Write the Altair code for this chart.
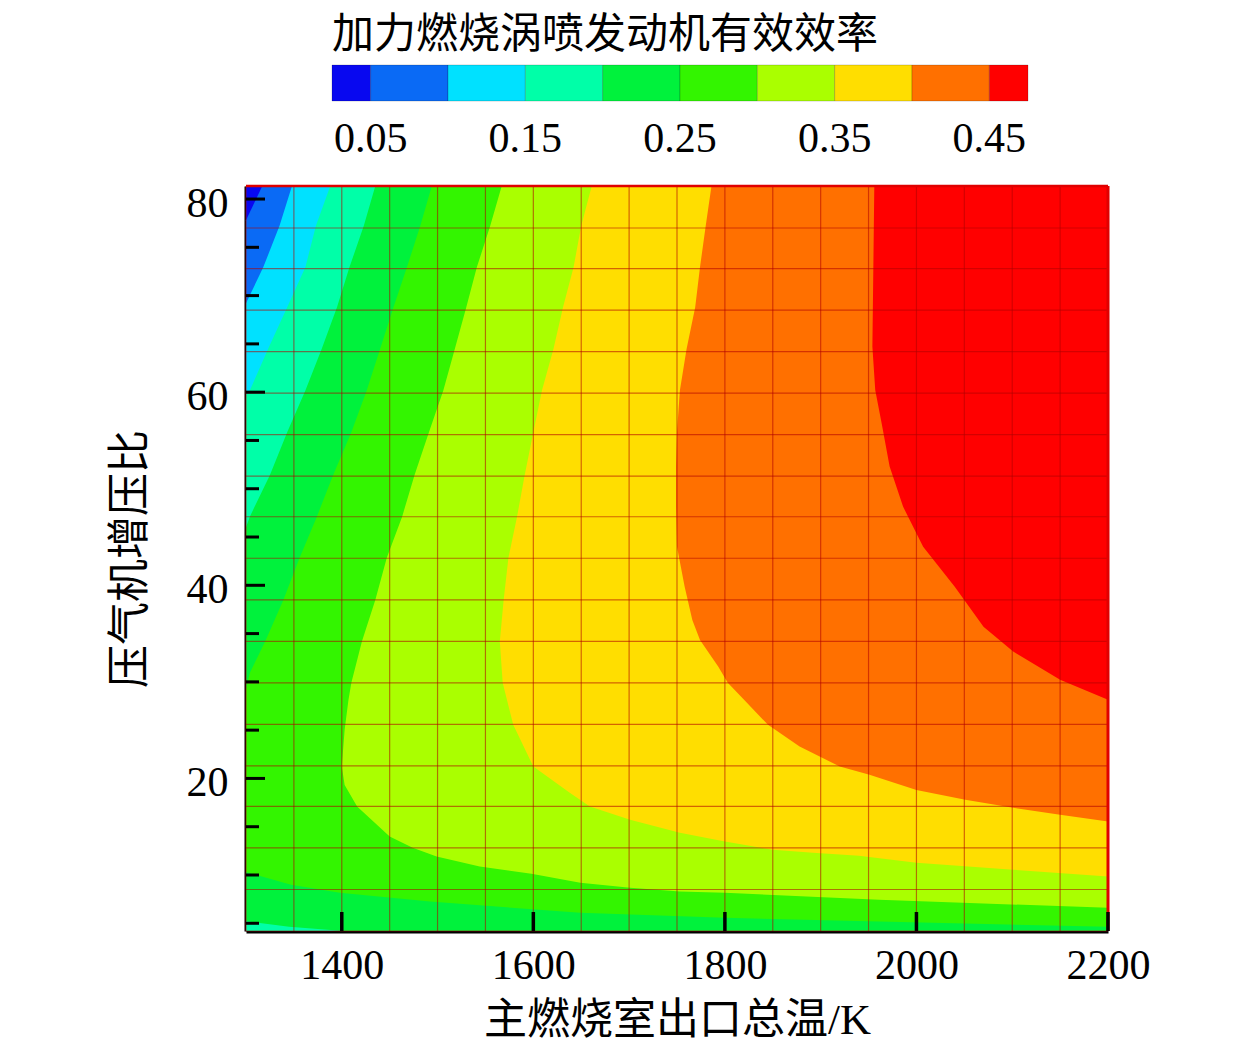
import altair as alt
import pandas as pd

# ---------------- text ----------------
TITLE = "加力燃烧涡喷发动机有效效率"
X_TITLE = "主燃烧室出口总温/K"
Y_TITLE = "压气机增压比"

# ---------------- axes ----------------
T_MIN, T_MAX = 1300, 2200
P_MIN, P_MAX = 4.2, 81.35
X_TICKS = [1400, 1600, 1800, 2000, 2200]
Y_TICKS = [20, 40, 60, 80]
Y_MINOR = [5, 10, 15, 25, 30, 35, 45, 50, 55, 65, 70, 75]

# computational grid (red lines)
GRID_T = [1300, 1350, 1400, 1450, 1500, 1550, 1600, 1650, 1700, 1750,
          1800, 1850, 1900, 1950, 2000, 2050, 2100, 2150, 2200]
GRID_P = [4.2, 8.5, 12.8, 17.1, 21.3, 25.6, 29.9, 34.2, 38.5, 42.8,
          47.1, 51.3, 55.6, 59.9, 64.2, 68.5, 72.8, 77.0, 81.3]

# ---------------- colour levels ----------------
LEVELS = [0.05, 0.10, 0.15, 0.20, 0.25, 0.30, 0.35, 0.40, 0.45]
COLORS = ["#0808f0", "#0a6af5", "#00e1ff", "#00ffa8", "#00f23c",
          "#33f500", "#aaff00", "#ffde00", "#ff7000", "#ff0000"]
CB_LO = [0.025, 0.05, 0.10, 0.15, 0.20, 0.25, 0.30, 0.35, 0.40, 0.45]
CB_HI = [0.05, 0.10, 0.15, 0.20, 0.25, 0.30, 0.35, 0.40, 0.45, 0.475]
CB_LABEL_VALUES = [0.05, 0.15, 0.25, 0.35, 0.45]
CB_LABELS = ["0.05", "0.15", "0.25", "0.35", "0.45"]

# ---------------- contour boundaries (pressure ratio -> temperature) ----------------
P_05 = [81.35, 77.8, 4.2]
T_05 = [1317, 1300, 1300]

P_10 = [81.35, 77.24, 72.93, 69.2, 4.2]
T_10 = [1348, 1335, 1318, 1300, 1300]

P_15 = [81.35, 77.24, 72.93, 68.79, 64.47, 60.16, 59.7, 4.2]
T_15 = [1388, 1373, 1362, 1343, 1323, 1304, 1300, 1300]

P_20 = [81.35, 77.24, 72.93, 68.79, 64.47, 60.16, 55.85, 51.43, 47.11, 46.0,
        5.2, 4.63, 4.2]
T_20 = [1435, 1423, 1408, 1395, 1379, 1362, 1343, 1325, 1304, 1300,
        1300, 1345, 1402]

P_25 = [81.35, 77.24, 72.93, 68.79, 64.47, 60.16, 55.85, 51.43, 47.11, 42.84,
        38.49, 34.17, 30.93, 29.2, 10.3, 9.0, 8.15, 7.25, 6.70, 6.08, 5.56, 5.18, 4.63]
T_25 = [1494, 1482, 1468, 1454, 1440, 1426, 1410, 1391, 1374, 1356,
        1339, 1320, 1304, 1300, 1300, 1347, 1398, 1492, 1565, 1649, 1800, 1961, 2200]

P_30 = [81.35, 77.24, 72.93, 68.79, 64.47, 60.16, 55.85, 51.43, 47.11, 42.84,
        38.49, 34.17, 29.9, 28.14, 25.03, 21.23, 19.33, 17.09, 13.99, 12.82,
        11.91, 10.88, 10.12, 9.19, 8.67, 8.29, 8.15, 7.43, 6.60]
T_30 = [1567, 1555, 1541, 1530, 1518, 1506, 1491, 1476, 1463, 1447,
        1435, 1421, 1410, 1407, 1403, 1400, 1403, 1416, 1450, 1474,
        1499, 1544, 1598, 1649, 1701, 1753, 1800, 1961, 2200]

P_35 = [81.35, 77.24, 72.93, 68.79, 64.47, 60.16, 55.85, 51.43, 47.11, 42.84,
        38.49, 34.17, 29.9, 25.55, 21.23, 18.51, 17.09, 15.71, 14.37, 13.47,
        12.61, 12.30, 12.0, 11.26, 10.54, 9.84]
T_35 = [1661, 1650, 1642, 1631, 1621, 1609, 1600, 1591, 1583, 1574,
        1569, 1565, 1568, 1579, 1600, 1638, 1659, 1701, 1753, 1800,
        1850, 1892, 1940, 2000, 2101, 2200]

P_40 = [81.35, 77.24, 72.93, 68.79, 64.47, 60.16, 55.85, 52.29, 48.15, 44.0,
        39.86, 36.4, 34.34, 31.58, 29.9, 28.14, 25.55, 23.30, 21.23, 20.37,
        18.81, 17.78, 16.96, 16.23, 15.54]
T_40 = [1786, 1780, 1774, 1769, 1760, 1753, 1750, 1749, 1749, 1750,
        1758, 1766, 1774, 1793, 1803, 1820, 1845, 1878, 1920, 1951,
        2000, 2051, 2101, 2150, 2200]

P_45 = [81.35, 72.9, 64.71, 60.2, 56.6, 52.29, 48.15, 44.0, 39.86, 35.72,
        33.14, 30.21, 28.14]
T_45 = [1956, 1955, 1954, 1957, 1964, 1972, 1986, 2007, 2040, 2070,
        2101, 2150, 2200]

BOUNDARIES = [(P_05, T_05), (P_10, T_10), (P_15, T_15), (P_20, T_20), (P_25, T_25),
              (P_30, T_30), (P_35, T_35), (P_40, T_40), (P_45, T_45)]

# ---------------- style ----------------
W, H = 862, 745
SERIF = "Liberation Serif"
MIXED = "Liberation Serif, Noto Sans CJK SC"
GRID_COLOR = "#b00000"


def xsc():
    return alt.Scale(domain=[T_MIN, T_MAX], nice=False, zero=False)


def ysc():
    return alt.Scale(domain=[P_MIN, P_MAX], nice=False, zero=False)


AX_X = alt.Axis(values=X_TICKS, format="d", ticks=False, grid=False, domain=True,
                domainColor="black", domainWidth=4, labelFont=SERIF, labelFontSize=42,
                labelColor="black", labelPadding=14, labelFlush=False,
                title=X_TITLE, titleFont=MIXED, titleFontSize=43,
                titleFontWeight="normal", titleColor="black", titlePadding=13)
AX_Y = alt.Axis(values=Y_TICKS, format="d", ticks=False, grid=False, domain=True,
                domainColor="black", domainWidth=4, labelFont=SERIF, labelFontSize=42,
                labelColor="black", labelPadding=18, labelOffset=4, title=Y_TITLE,
                titleFont=MIXED, titleFontSize=43, titleFontWeight="normal",
                titleColor="black", titlePadding=34)

layers = []

# base (lowest colour)
base_df = pd.DataFrame({"t0": [T_MIN], "t1": [T_MAX], "p0": [P_MIN], "p1": [P_MAX]})
layers.append(alt.Chart(base_df).mark_rect(color=COLORS[0]).encode(
    x=alt.X("t0:Q", scale=xsc(), axis=None), x2="t1",
    y=alt.Y("p0:Q", scale=ysc(), axis=None), y2="p1"))

# filled contour bands: each band fills from its boundary to the right edge
for i, (P, T) in enumerate(BOUNDARIES):
    df = pd.DataFrame({"p": P, "T": T, "t1": T_MAX})
    layers.append(
        alt.Chart(df).mark_area(orient="horizontal", color=COLORS[i + 1], opacity=1).encode(
            x=alt.X("T:Q", scale=xsc(), axis=None, stack=None),
            x2="t1",
            y=alt.Y("p:Q", scale=ysc(), axis=None)))

# grid lines
gv_df = pd.DataFrame({"T": GRID_T, "p0": P_MIN, "p1": P_MAX})
gh_df = pd.DataFrame({"p": GRID_P, "t0": T_MIN, "t1": T_MAX})
layers.append(alt.Chart(gv_df).mark_rule(color=GRID_COLOR, strokeWidth=1.2, opacity=0.55).encode(
    x=alt.X("T:Q", scale=xsc(), axis=None), y=alt.Y("p0:Q", scale=ysc(), axis=None), y2="p1"))
layers.append(alt.Chart(gh_df).mark_rule(color=GRID_COLOR, strokeWidth=1.2, opacity=0.55).encode(
    y=alt.Y("p:Q", scale=ysc(), axis=None), x=alt.X("t0:Q", scale=xsc(), axis=None), x2="t1"))

# red frame on top and right
top_df = pd.DataFrame({"p": [P_MAX], "t0": [T_MIN], "t1": [T_MAX]})
right_df = pd.DataFrame({"T": [T_MAX], "p0": [P_MIN], "p1": [P_MAX]})
layers.append(alt.Chart(top_df).mark_rule(color="#e00000", strokeWidth=2.5).encode(
    y=alt.Y("p:Q", scale=ysc(), axis=None), x=alt.X("t0:Q", scale=xsc(), axis=None), x2="t1"))
layers.append(alt.Chart(right_df).mark_rule(color="#e00000", strokeWidth=3).encode(
    x=alt.X("T:Q", scale=xsc(), axis=None), y=alt.Y("p0:Q", scale=ysc(), axis=None), y2="p1"))

# inward ticks
k_per_px = (T_MAX - T_MIN) / W
p_per_px = (P_MAX - P_MIN) / H
ytick_df = pd.DataFrame({
    "p": Y_TICKS + Y_MINOR,
    "t0": T_MIN,
    "t1": [T_MIN + 19 * k_per_px] * len(Y_TICKS) + [T_MIN + 13 * k_per_px] * len(Y_MINOR)})
xtick_df = pd.DataFrame({"T": X_TICKS, "p0": P_MIN, "p1": P_MIN + 19 * p_per_px})
layers.append(alt.Chart(ytick_df).mark_rule(color="black", strokeWidth=3).encode(
    y=alt.Y("p:Q", scale=ysc(), axis=None), x=alt.X("t0:Q", scale=xsc(), axis=None), x2="t1"))
layers.append(alt.Chart(xtick_df).mark_rule(color="black", strokeWidth=3.5).encode(
    x=alt.X("T:Q", scale=xsc(), axis=None), y=alt.Y("p0:Q", scale=ysc(), axis=None), y2="p1"))

# axes (labels, titles, black axis lines) drawn on top
ax_df = pd.DataFrame({"T": [T_MIN], "p": [P_MIN]})
layers.append(alt.Chart(ax_df).mark_point(opacity=0).encode(
    x=alt.X("T:Q", scale=xsc(), axis=AX_X),
    y=alt.Y("p:Q", scale=ysc(), axis=AX_Y)))

# ---------------- colour bar ----------------
cbx = alt.Scale(domain=[0.025, 0.475], range=[86, 782], nice=False, zero=False)
cby = alt.Scale(domain=[0, 1], range=[-85, -121], nice=False, zero=False)
cb_df = pd.DataFrame({"lo": CB_LO, "hi": CB_HI, "c": list(range(len(CB_LO))),
                      "y0": 0, "y1": 1})
layers.append(alt.Chart(cb_df).mark_rect(stroke="black", strokeOpacity=0.18, strokeWidth=1).encode(
    x=alt.X("lo:Q", scale=cbx, axis=None), x2="hi",
    y=alt.Y("y0:Q", scale=cby, axis=None), y2="y1",
    color=alt.Color("c:O", scale=alt.Scale(domain=list(range(len(CB_LO))), range=COLORS),
                    legend=None)))
lab_df = pd.DataFrame({"v": CB_LABEL_VALUES, "txt": CB_LABELS, "yy": -1.05})
layers.append(alt.Chart(lab_df).mark_text(font=SERIF, fontSize=42, baseline="middle",
                                          align="center", color="black").encode(
    x=alt.X("v:Q", scale=cbx, axis=None),
    y=alt.Y("yy:Q", scale=cby, axis=None),
    text="txt:N"))

chart = alt.layer(*layers).resolve_scale(
    x="independent", y="independent"
).properties(
    width=W, height=H,
    title=alt.TitleParams(TITLE, anchor="start", frame="group", dx=86, offset=8,
                          fontSize=42, font=MIXED, fontWeight="normal", color="black"),
    padding={"left": 238, "top": 178, "right": 60, "bottom": 110},
    autosize="none",
).configure_view(stroke=None)

chart.save("out.html", embed_options={"renderer": "svg", "actions": False})
